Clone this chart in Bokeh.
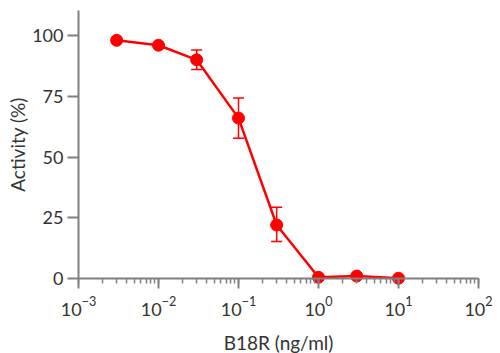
from bokeh.plotting import figure
from bokeh.models import FixedTicker, Range1d, Whisker, ColumnDataSource, LogTicker
from bokeh.embed import file_html
from bokeh.resources import INLINE

conc = [0.003, 0.01, 0.03, 0.1, 0.3, 1, 3, 10]
activity = [98, 96, 90, 66, 22, 0.5, 1, 0.1]
err_upper = [98, 96, 94, 74.3, 29.3, 0.5, 1, 0.1]
err_lower = [98, 96, 86, 57.7, 15.2, 0.5, 1, 0.1]
y_ticks = [0, 25, 50, 75, 100]

RED = "#ff0000"
GREY = "#808080"
TXT = "#333333"
FONT = "Lato"

# frame covers the whole canvas; axes are placed at fixed data locations
x_lo = 10 ** (-3 - 78 / 80)
x_hi = 10 ** (2 + 22 / 80)
p = figure(width=500, height=353, x_axis_type="log", output_backend="svg",
           toolbar_location=None,
           x_range=Range1d(x_lo, x_hi), y_range=Range1d(-30.86, 114.4),
           min_border_left=0, min_border_right=0, min_border_top=0,
           min_border_bottom=0)
p.outline_line_color = None
p.grid.grid_line_color = None

src = ColumnDataSource(dict(x=conc, y=activity, up=err_upper, lo=err_lower))
w = Whisker(base="x", upper="up", lower="lo", source=src, line_color=RED,
            line_width=1.5)
w.upper_head.line_color = RED
w.lower_head.line_color = RED
w.upper_head.line_width = 1.5
w.lower_head.line_width = 1.5
w.upper_head.size = 11
w.lower_head.size = 11
p.add_layout(w)

p.line("x", "y", source=src, line_color=RED, line_width=2.5)
p.scatter("x", "y", source=src, size=12, fill_color=RED, line_color=RED)

p.xaxis.fixed_location = 0
p.yaxis.fixed_location = 1e-3
p.xaxis.ticker = LogTicker(num_minor_ticks=10)
p.xaxis.bounds = (1e-3, 1e2)
p.yaxis.ticker = FixedTicker(ticks=y_ticks)
p.yaxis.bounds = (0, 110.3)

for ax in (p.xaxis, p.yaxis):
    ax.axis_line_color = GREY
    ax.axis_line_width = 2
    ax.major_tick_line_color = GREY
    ax.major_tick_line_width = 2
    ax.minor_tick_line_color = GREY
    ax.minor_tick_line_width = 1.5
    ax.major_tick_in = 0
    ax.minor_tick_in = 0
    ax.major_tick_out = 10
    ax.minor_tick_out = 5
    ax.major_label_text_font = FONT
    ax.major_label_text_font_size = "18px"
    ax.major_label_text_color = TXT
    ax.axis_label_text_font = FONT
    ax.axis_label_text_font_size = "19px"
    ax.axis_label_text_color = TXT
    ax.axis_label_text_font_style = "normal"

p.yaxis.minor_tick_out = 0
p.yaxis.major_tick_out = 11
p.yaxis.major_label_standoff = 4
p.xaxis.major_label_standoff = 8
p.xaxis.axis_label = "B18R (ng/ml)"
p.yaxis.axis_label = "Activity (%)"
p.xaxis.axis_label_standoff = 12
p.yaxis.axis_label_standoff = 0

open("out.html", "w").write(file_html(p, INLINE))
